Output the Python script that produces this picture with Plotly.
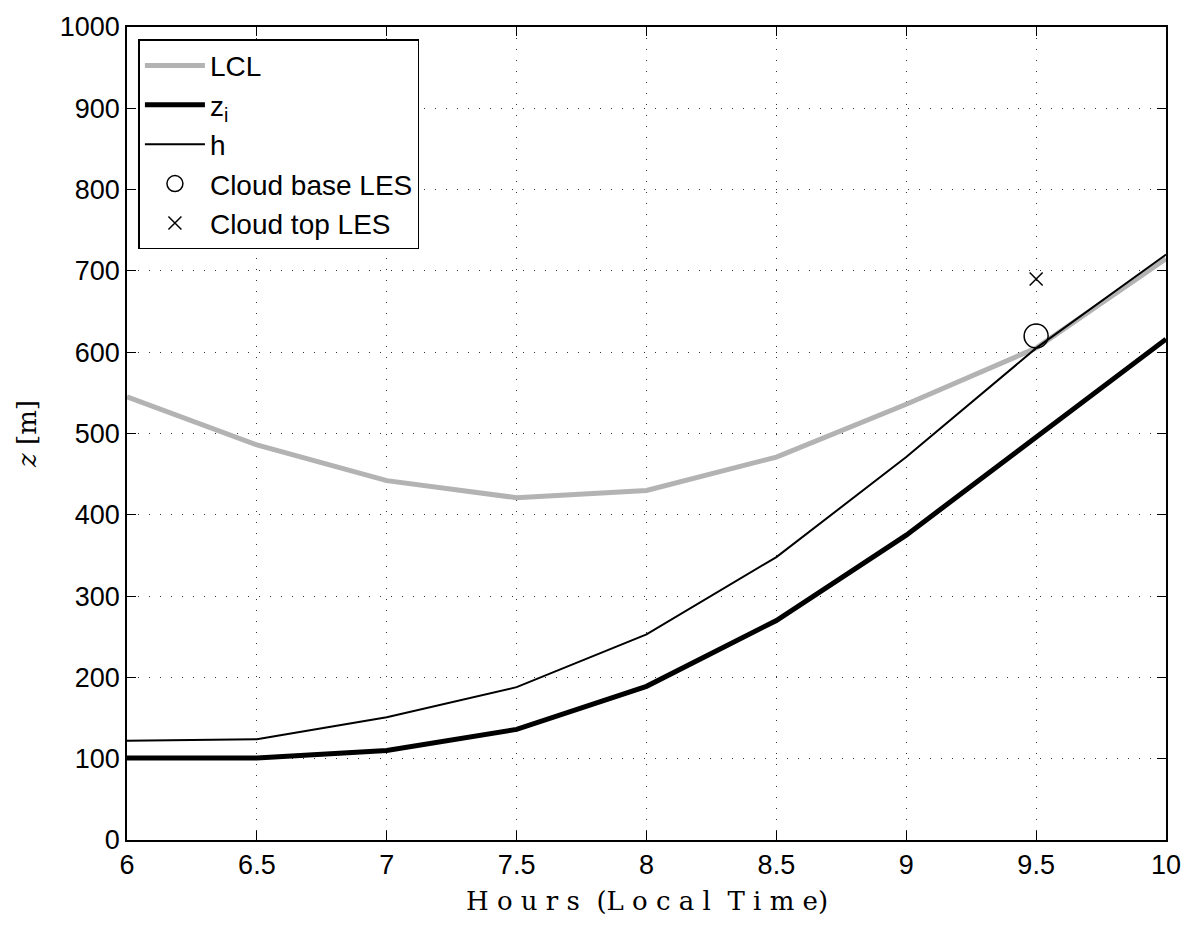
import plotly.graph_objects as go

hours = [6, 6.5, 7, 7.5, 8, 8.5, 9, 9.5, 10]
lcl = [545, 486, 442, 421, 430, 471, 536, 605, 715]
zi = [101, 101, 110, 136, 189, 270, 375, 495, 616]
h = [122, 124, 151, 188, 253, 348, 471, 605, 720]
les_time = [9.5]
cloud_base = [620]
cloud_top = [690]

fig = go.Figure()
fig.add_trace(go.Scatter(x=hours, y=lcl, mode="lines", name="LCL",
                         line=dict(color="#b3b3b3", width=5)))
fig.add_trace(go.Scatter(x=hours, y=zi, mode="lines", name="z<sub>i</sub>",
                         line=dict(color="black", width=5)))
fig.add_trace(go.Scatter(x=hours, y=h, mode="lines", name="h",
                         line=dict(color="black", width=2)))
fig.add_trace(go.Scatter(x=les_time, y=cloud_base, mode="markers", name="Cloud base LES",
                         marker=dict(symbol="circle-open", size=24, color="black",
                                     line=dict(width=1.5))))
fig.add_trace(go.Scatter(x=les_time, y=cloud_top, mode="markers", name="Cloud top LES",
                         marker=dict(symbol="x-thin-open", size=13, color="black",
                                     line=dict(width=1.5))))

axis_common = dict(showline=True, linecolor="black", linewidth=1.5, mirror="allticks",
                   ticks="inside", ticklen=9, tickcolor="black", tickwidth=1,
                   showgrid=True, gridcolor="#333333", griddash="1px,10px", gridwidth=1.3,
                   zeroline=False,
                   tickfont=dict(family="Liberation Sans, Arial, sans-serif", size=27, color="black"))

fig.update_xaxes(range=[6, 10], tickvals=[6, 6.5, 7, 7.5, 8, 8.5, 9, 9.5, 10],
                 ticktext=["6", "6.5", "7", "7.5", "8", "8.5", "9", "9.5", "10"],
                 **axis_common)
fig.update_yaxes(range=[0, 1000], tickvals=list(range(0, 1001, 100)),
                 title=dict(text="<i>z</i> [m]",
                            font=dict(family="DejaVu Serif, serif", size=26, color="black"),
                            standoff=16),
                 **axis_common)

fig.add_annotation(text="H o u r s  (L o c a l  T i m e)", xref="paper", yref="paper",
                   x=0.5, y=0, xanchor="center", yanchor="middle", yshift=-61,
                   showarrow=False,
                   font=dict(family="DejaVu Serif, serif", size=26, color="black"))

fig.update_layout(
    width=1194, height=926,
    margin=dict(l=127, r=28, t=19, b=86),
    plot_bgcolor="white", paper_bgcolor="white",
    legend=dict(x=0.011, y=0.985, xanchor="left", yanchor="top",
                bgcolor="white", bordercolor="black", borderwidth=1.5,
                font=dict(family="Liberation Sans, Arial, sans-serif", size=28, color="black"),
                itemwidth=60, tracegroupgap=0),
    showlegend=True,
)

fig.write_html("out.html")
